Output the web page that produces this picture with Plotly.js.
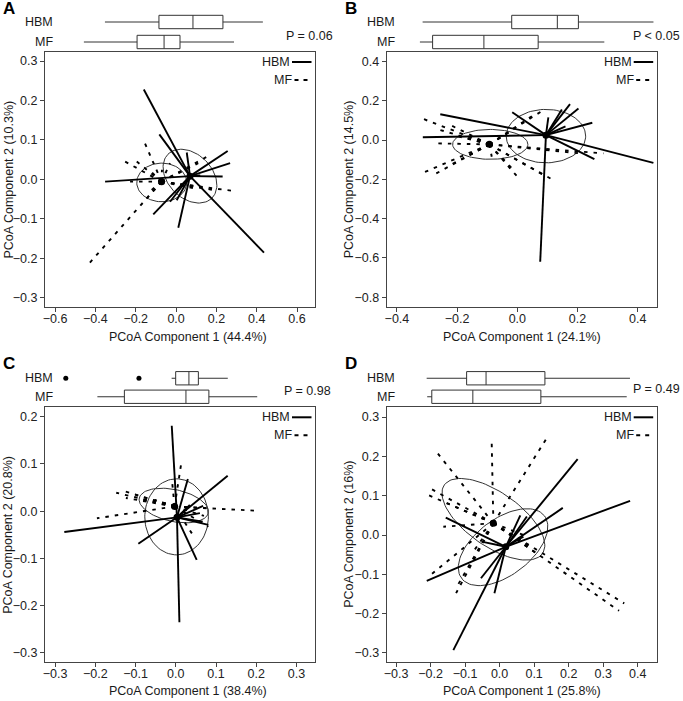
<!DOCTYPE html>
<html><head><meta charset="utf-8">
<script src="https://cdn.plot.ly/plotly-3.0.1.min.js"></script>
<style>html,body{margin:0;padding:0;background:#fff}</style>
</head><body><div id="chart" style="width:683px;height:701px"></div>
<script>
// ---------------- DATA ----------------
// Panel A
const A_hbm_centroid = [0.069, 0.008];
const A_hbm_x = [-0.160, -0.083, 0.053, 0.256, 0.268, 0.231, -0.352, 0.436, -0.113, 0.011, -0.030, 0.003, 0.120];
const A_hbm_y = [0.228, 0.114, 0.068, 0.072, 0.041, 0.007, -0.006, -0.186, -0.089, -0.123, -0.057, -0.053, 0.010];
const A_mf_centroid = [-0.072, -0.006];
const A_mf_x = [-0.154, -0.253, -0.195, -0.446, 0.292, 0.152, 0.110, 0.185, 0.094, -0.030, -0.228, -0.154, -0.121, -0.030, 0.020, -0.070, -0.125, 0.130];
const A_mf_y = [0.091, 0.045, 0.045, -0.222, -0.030, 0.057, 0.041, -0.027, -0.023, 0.041, -0.006, -0.053, -0.027, -0.010, 0.019, 0.024, 0.020, -0.020];
const A_hbm_ellipse = [0.069, 0.008, 0.109, -0.0556, 0.077, 0.0396];   // cx, cy, ux, uy, vx, vy
const A_mf_ellipse = [-0.071, -0.008, 0.124, 0.0, 0.0, 0.049];
const A_box_hbm = [0.222, 0.422, 0.548, 0.659, 0.807];  // lower, q1, median, q3, upper
const A_box_mf = [0.144, 0.341, 0.441, 0.500, 0.700];
const A_p = "P = 0.06";
const A_xtitle = "PCoA Component 1 (44.4%)";
const A_ytitle = "PCoA Component 2 (10.3%)";

// Panel B
const B_hbm_centroid = [0.095, 0.025];
const B_hbm_x = [-0.256, -0.314, -0.017, 0.103, 0.148, 0.175, 0.203, 0.249, 0.452, 0.256, 0.076, 0.160];
const B_hbm_y = [0.131, 0.014, 0.141, 0.115, 0.156, 0.183, 0.161, 0.088, -0.116, -0.097, -0.619, 0.070];
const B_mf_centroid = [-0.093, -0.022];
const B_mf_x = [-0.317, -0.256, -0.218, -0.267, -0.312, -0.273, -0.223, -0.002, 0.120, 0.087, 0.286, 0.209, 0.087, 0.054, -0.157, -0.024, -0.018, -0.157, -0.085, -0.200];
const B_mf_y = [0.110, 0.051, 0.073, -0.017, -0.166, -0.173, -0.127, -0.183, -0.204, -0.178, -0.068, -0.068, 0.153, 0.127, 0.017, 0.042, -0.144, -0.076, -0.085, 0.020];
const B_hbm_ellipse = [0.095, 0.020, 0.132, 0.0, 0.0, 0.136];
const B_mf_ellipse = [-0.090, -0.022, 0.125, 0.0, 0.0, 0.076];
const B_box_hbm = [0.133, 0.463, 0.632, 0.710, 0.988];
const B_box_mf = [0.123, 0.170, 0.360, 0.561, 0.806];
const B_p = "P < 0.05";
const B_xtitle = "PCoA Component 1 (24.1%)";
const B_ytitle = "PCoA Component 2 (14.5%)";

// Panel C
const C_hbm_centroid = [0.003, -0.013];
const C_hbm_x = [-0.010, 0.030, 0.129, -0.277, -0.093, 0.009, 0.052, 0.067, 0.068, 0.081, 0.035, 0.060];
const C_hbm_y = [0.181, 0.068, 0.075, -0.044, -0.069, -0.235, -0.103, -0.022, 0.011, -0.029, 0.013, -0.004];
const C_mf_centroid = [-0.003, 0.010];
const C_mf_x = [0.015, -0.196, 0.200, -0.148, -0.126, -0.124, -0.101, -0.081, -0.010, 0.040, 0.081, 0.081, 0.070, -0.052, -0.027];
const C_mf_y = [0.109, -0.015, 0.001, 0.039, 0.042, 0.028, 0.035, 0.024, 0.070, -0.047, -0.033, 0.006, -0.010, 0.024, 0.017];
const C_hbm_ellipse = [0.002, -0.012, 0.079, 0.0, 0.0, 0.0805];
const C_mf_ellipse = [-0.005, 0.012, 0.0857, -0.0159, 0.0085, 0.033];
const C_box_hbm = [0.469, 0.484, 0.533, 0.568, 0.677];
const C_box_hbm_outliers = [0.077, 0.348];
const C_box_mf = [0.194, 0.294, 0.522, 0.607, 0.786];
const C_p = "P = 0.98";
const C_xtitle = "PCoA Component 1 (38.4%)";
const C_ytitle = "PCoA Component 2 (20.8%)";

// Panel D
const D_hbm_centroid = [0.018, -0.030];
const D_hbm_x = [0.226, 0.378, 0.183, 0.079, 0.060, -0.156, -0.211, -0.134, -0.054, -0.015, -0.052, 0.069];
const D_hbm_y = [0.193, 0.087, 0.069, 0.047, 0.050, 0.044, -0.117, -0.293, -0.110, -0.148, -0.017, -0.004];
const D_mf_centroid = [-0.018, 0.030];
const D_mf_x = [-0.185, -0.023, 0.139, -0.208, -0.202, -0.200, -0.124, 0.346, 0.361, -0.163, -0.076, 0.088, 0.107, -0.153, 0.070, -0.126];
const D_mf_y = [0.214, 0.240, 0.250, 0.102, 0.119, -0.102, -0.132, -0.193, -0.174, 0.021, -0.042, -0.030, -0.047, 0.081, 0.000, -0.148];
const D_hbm_ellipse = [0.010, -0.031, 0.120, 0.0796, -0.049, 0.057];
const D_mf_ellipse = [-0.018, 0.040, 0.142, -0.0875, -0.045, -0.056];
const D_box_hbm = [0.148, 0.296, 0.368, 0.586, 0.901];
const D_box_mf = [0.150, 0.167, 0.319, 0.571, 0.889];
const D_p = "P = 0.49";
const D_xtitle = "PCoA Component 1 (25.8%)";
const D_ytitle = "PCoA Component 2 (16%)";

const groups = ["HBM", "MF"];
const panelLetters = ["A", "B", "C", "D"];

// ---------------- LAYOUT / DRAWING ----------------
const W = 683, H = 701;
const FONT = "Liberation Sans, Arial, Helvetica, sans-serif";
const X = px => px / W, Y = py => 1 - py / H;

const panels = [
  {d: {hc: A_hbm_centroid, hx: A_hbm_x, hy: A_hbm_y, mc: A_mf_centroid, mx: A_mf_x, my: A_mf_y, he: A_hbm_ellipse, me: A_mf_ellipse, bh: A_box_hbm, bm: A_box_mf, out: [], p: A_p, xt: A_xtitle, yt: A_ytitle},
   f: {l: 45, t: 52, r: 315, b: 307}, xr: [-0.650, 0.689], yr: [-0.324, 0.323], xd: 0.2, yd: 0.1, x0: -0.6, y0: -0.3,
   box: {t: 12, b: 52, w: 0.67}, pR: 335, pY: 36, xtX: 188, xtY: 337, ytX: 8},
  {d: {hc: B_hbm_centroid, hx: B_hbm_x, hy: B_hbm_y, mc: B_mf_centroid, mx: B_mf_x, my: B_mf_y, he: B_hbm_ellipse, me: B_mf_ellipse, bh: B_box_hbm, bm: B_box_mf, out: [], p: B_p, xt: B_xtitle, yt: B_ytitle},
   f: {l: 386.7, t: 52, r: 656.7, b: 306.7}, xr: [-0.434, 0.463], yr: [-0.848, 0.448], xd: 0.2, yd: 0.2, x0: -0.4, y0: -0.8,
   box: {t: 12, b: 52, w: 0.67}, pR: 682, pY: 36, xtX: 522, xtY: 337, ytX: 349},
  {d: {hc: C_hbm_centroid, hx: C_hbm_x, hy: C_hbm_y, mc: C_mf_centroid, mx: C_mf_x, my: C_mf_y, he: C_hbm_ellipse, me: C_mf_ellipse, bh: C_box_hbm, bm: C_box_mf, out: C_box_hbm_outliers, p: C_p, xt: C_xtitle, yt: C_ytitle},
   f: {l: 45, t: 407.3, r: 315, b: 662.3}, xr: [-0.325, 0.346], yr: [-0.320, 0.220], xd: 0.1, yd: 0.1, x0: -0.3, y0: -0.3,
   box: {t: 369, b: 406, w: 0.72}, pR: 333, pY: 390.5, xtX: 188, xtY: 691, ytX: 8},
  {d: {hc: D_hbm_centroid, hx: D_hbm_x, hy: D_hbm_y, mc: D_mf_centroid, mx: D_mf_x, my: D_mf_y, he: D_hbm_ellipse, me: D_mf_ellipse, bh: D_box_hbm, bm: D_box_mf, out: [], p: D_p, xt: D_xtitle, yt: D_ytitle},
   f: {l: 386.7, t: 407.3, r: 656.7, b: 662.3}, xr: [-0.327, 0.455], yr: [-0.324, 0.325], xd: 0.1, yd: 0.1, x0: -0.3, y0: -0.3,
   box: {t: 369, b: 406, w: 0.72}, pR: 682, pY: 389, xtX: 522, xtY: 691, ytX: 349}
];

function spider(c, xs, ys) {
  const X1 = [], Y1 = [];
  for (let i = 0; i < xs.length; i++) { X1.push(c[0], xs[i], null); Y1.push(c[1], ys[i], null); }
  return {x: X1, y: Y1};
}
function ellipse(e) {
  const ex = [], ey = [];
  for (let k = 0; k <= 96; k++) {
    const t = 2 * Math.PI * k / 96;
    ex.push(e[0] + e[2] * Math.cos(t) + e[4] * Math.sin(t));
    ey.push(e[1] + e[3] * Math.cos(t) + e[5] * Math.sin(t));
  }
  return {x: ex, y: ey};
}

const traces = [];
const layout = {
  width: W, height: H, margin: {l: 0, r: 0, t: 0, b: 0},
  paper_bgcolor: "#fff", plot_bgcolor: "#fff", showlegend: false,
  font: {family: FONT, size: 12.5, color: "#1a1a1a"},
  annotations: [], shapes: []
};

panels.forEach((P, i) => {
  const n = i + 1, bn = i + 5;
  const xa = "x" + n, ya = "y" + n, bxa = "x" + bn, bya = "y" + bn;
  const f = P.f, d = P.d;
  const axCommon = {showline: true, mirror: true, linecolor: "#444", linewidth: 1, ticks: "outside", ticklen: 4,
    tickcolor: "#444", showgrid: false, zeroline: false, tickformat: ".1f", tickfont: {size: 12.5, family: FONT, color: "#222"}};
  layout["xaxis" + n] = Object.assign({}, axCommon, {domain: [X(f.l), X(f.r)], range: P.xr, anchor: ya, tick0: P.x0, dtick: P.xd, ticklabelstandoff: -4});
  layout["yaxis" + n] = Object.assign({}, axCommon, {domain: [Y(f.b), Y(f.t)], range: P.yr, anchor: xa, tick0: P.y0, dtick: P.yd});
  layout["xaxis" + bn] = {domain: [X(f.l), X(f.r)], range: [0, 1], anchor: bya, visible: false, fixedrange: true};
  layout["yaxis" + bn] = {domain: [Y(P.box.b), Y(P.box.t)], range: [-0.5, 1.5], anchor: bxa, visible: false, fixedrange: true};

  // ellipses
  [d.he, d.me].forEach(e => {
    const el = ellipse(e);
    traces.push({type: "scatter", mode: "lines", x: el.x, y: el.y, xaxis: xa, yaxis: ya,
      line: {color: "#333", width: 1}, hoverinfo: "skip"});
  });
  // spiders
  const sh = spider(d.hc, d.hx, d.hy);
  traces.push({type: "scatter", mode: "lines", x: sh.x, y: sh.y, xaxis: xa, yaxis: ya, name: groups[0],
    line: {color: "#000", width: 1.9}, connectgaps: false, hoverinfo: "skip"});
  const sm = spider(d.mc, d.mx, d.my);
  traces.push({type: "scatter", mode: "lines", x: sm.x, y: sm.y, xaxis: xa, yaxis: ya, name: groups[1],
    line: {color: "#000", width: 1.9, dash: "3.5px,6px"}, connectgaps: false, hoverinfo: "skip"});
  // centroids
  traces.push({type: "scatter", mode: "markers", x: [d.hc[0], d.mc[0]], y: [d.hc[1], d.mc[1]], xaxis: xa, yaxis: ya,
    marker: {color: "#000", size: 7}, hoverinfo: "skip"});

  // boxplots
  [[d.bh, 1], [d.bm, 0]].forEach(([b, pos]) => {
    traces.push({type: "box", orientation: "h", y: [pos], lowerfence: [b[0]], q1: [b[1]], median: [b[2]], q3: [b[3]], upperfence: [b[4]],
      xaxis: bxa, yaxis: bya, fillcolor: "#fff", line: {color: "#333", width: 1}, whiskerwidth: 0, width: P.box.w,
      boxpoints: false, hoverinfo: "skip"});
  });
  if (d.out.length) {
    traces.push({type: "scatter", mode: "markers", x: d.out, y: d.out.map(() => 1), xaxis: bxa, yaxis: bya,
      marker: {color: "#000", size: 5}, hoverinfo: "skip"});
  }

  // box row labels
  const rowH = (P.box.b - P.box.t) / 2;
  layout.annotations.push({text: groups[0], xref: "paper", yref: "paper", x: X(f.l + 10), y: Y(P.box.t + rowH * 0.5),
    xanchor: "right", yanchor: "middle", showarrow: false, font: {size: 12.5}});
  layout.annotations.push({text: groups[1], xref: "paper", yref: "paper", x: X(f.l + 10), y: Y(P.box.t + rowH * 1.5),
    xanchor: "right", yanchor: "middle", showarrow: false, font: {size: 12.5}});
  // P value
  layout.annotations.push({text: d.p, xref: "paper", yref: "paper", x: X(P.pR), y: Y(P.pY),
    xanchor: "right", yanchor: "middle", showarrow: false, font: {size: 12.5}});
  // panel letter
  layout.annotations.push({text: "<b>" + panelLetters[i] + "</b>", xref: "paper", yref: "paper", x: X(f.l - 44), y: Y(f.t - 44),
    xanchor: "left", yanchor: "middle", showarrow: false, font: {size: 17, color: "#000"}});
  // axis titles
  layout.annotations.push({text: d.xt, xref: "paper", yref: "paper", x: X(P.xtX), y: Y(P.xtY),
    xanchor: "center", yanchor: "middle", showarrow: false, font: {size: 12.5}});
  layout.annotations.push({text: d.yt, xref: "paper", yref: "paper", x: X(P.ytX), y: Y((f.t + f.b) / 2),
    xanchor: "center", yanchor: "middle", textangle: -90, showarrow: false, font: {size: 12.5}});
  // in-plot legend
  layout.annotations.push({text: groups[0], xref: "paper", yref: "paper", x: X(f.r - 23), y: Y(f.t + 10),
    xanchor: "right", yanchor: "middle", showarrow: false, font: {size: 12.5}});
  layout.annotations.push({text: groups[1], xref: "paper", yref: "paper", x: X(f.r - 21), y: Y(f.t + 28),
    xanchor: "right", yanchor: "middle", showarrow: false, font: {size: 12.5}});
  layout.shapes.push({type: "line", xref: "paper", yref: "paper", x0: X(f.r - 23), x1: X(f.r - 3.5), y0: Y(f.t + 10), y1: Y(f.t + 10),
    line: {color: "#000", width: 2}});
  layout.shapes.push({type: "line", xref: "paper", yref: "paper", x0: X(f.r - 20.5), x1: X(f.r - 7), y0: Y(f.t + 28), y1: Y(f.t + 28),
    line: {color: "#000", width: 2, dash: "4px,5px"}});
});

Plotly.newPlot("chart", traces, layout, {displayModeBar: false, staticPlot: true});
</script></body></html>
